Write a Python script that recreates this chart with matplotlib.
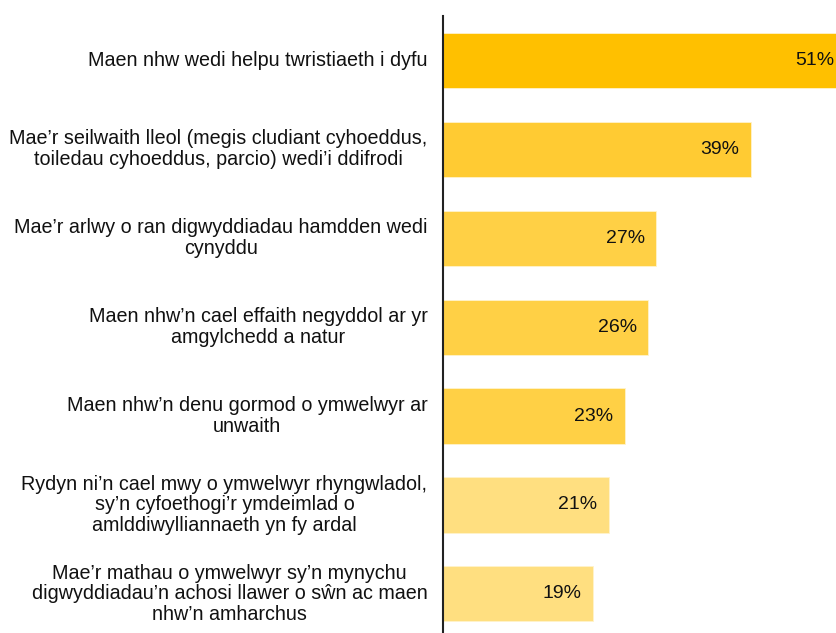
import matplotlib.pyplot as plt

plt.rcParams['font.family'] = ['Liberation Sans', 'DejaVu Sans']

# survey statements (top to bottom) and share agreeing
labels = [
    "Maen nhw wedi helpu twristiaeth i dyfu",
    "Mae\u2019r seilwaith lleol (megis cludiant cyhoeddus,\ntoiledau cyhoeddus, parcio) wedi\u2019i ddifrodi",
    "Mae\u2019r arlwy o ran digwyddiadau hamdden wedi\ncynyddu",
    "Maen nhw\u2019n cael effaith negyddol ar yr\namgylchedd a natur",
    "Maen nhw\u2019n denu gormod o ymwelwyr ar\nunwaith",
    "Rydyn ni\u2019n cael mwy o ymwelwyr rhyngwladol,\nsy\u2019n cyfoethogi\u2019r ymdeimlad o\namlddiwylliannaeth yn fy ardal",
    "Mae\u2019r mathau o ymwelwyr sy\u2019n mynychu\ndigwyddiadau\u2019n achosi llawer o s\u0175n ac maen\nnhw\u2019n amharchus",
]
values = [51, 39, 27, 26, 23, 21, 19]
colors = ['#FFC000', '#FFCB33', '#FFD045', '#FFD045', '#FFD045', '#FFDF80', '#FFDF80']

fig = plt.figure(figsize=(8.37, 6.33), dpi=100)
ax = fig.add_axes([0.5295, 0.0, 0.4705, 0.975])

ypos = list(range(len(values)))
ax.barh(ypos, values, height=0.62, color=colors, edgecolor='#FFF3CC', linewidth=0.6)

for y, v, lab in zip(ypos, values, labels):
    ax.text(v - 1.45, y, f"{v}%", ha='right', va='center', fontsize=14, color='#111111')
    ax.text(-2.0, y, lab, ha='right', va='center', multialignment='center',
            fontsize=14.2, color='#111111', linespacing=1.12)

ax.set_xlim(0, 49.9)
ax.set_ylim(6.44, -0.5)
ax.set_xticks([])
ax.set_yticks([])
for s in ['top', 'right', 'bottom']:
    ax.spines[s].set_visible(False)
ax.spines['left'].set_color('#222222')
ax.spines['left'].set_linewidth(1.5)

fig.savefig('out.png', dpi=100)
